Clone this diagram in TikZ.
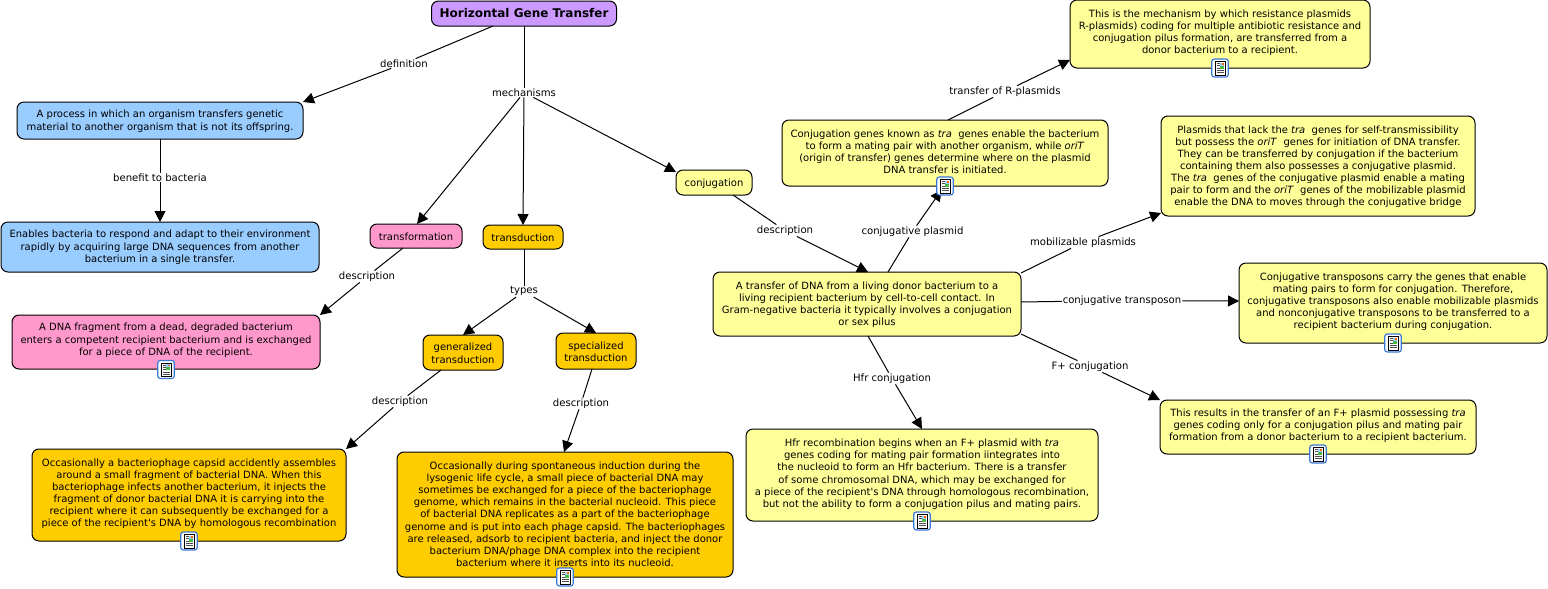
\documentclass[tikz,border=0pt]{standalone}
\usepackage{fontspec}
\setmainfont{DejaVu Sans}
\usetikzlibrary{arrows.meta}
\definecolor{cpurple}{HTML}{CC99FF}
\definecolor{cblue}{HTML}{99CCFF}
\definecolor{cpink}{HTML}{FF99CC}
\definecolor{corange}{HTML}{FFCC00}
\definecolor{cyellow}{HTML}{FFFF99}
\definecolor{iconblue}{HTML}{3A78D8}
\tikzset{
  cbase/.style={draw=black,line width=1pt,rounded corners=7pt,inner sep=0pt,outer sep=0pt,text=black},
  purplebox/.style={cbase,fill=cpurple},
  bluebox/.style={cbase,fill=cblue},
  pinkbox/.style={cbase,fill=cpink},
  orangebox/.style={cbase,fill=corange},
  yellowbox/.style={cbase,fill=cyellow},
  linklabel/.style={fill=white,inner xsep=1pt,inner ysep=1pt,outer sep=0pt,text=black,font=\fontsize{10.1}{12}\selectfont},
  plain/.style={draw=black,line width=1pt},
  arrow/.style={draw=black,line width=1pt,-{Triangle[length=11pt,width=11pt]}},
  iconframe/.style={draw=iconblue,fill=white,line width=1.2pt,rounded corners=2.5pt,minimum width=16.5pt,minimum height=18pt,inner sep=0pt,outer sep=0pt},
}
\newcommand{\cbox}[8]{%
  \pgfmathsetmacro\cw{#5-#3}\pgfmathsetmacro\ch{#6-#4}%
  \node[#1] (#2) at ({(#3+#5)/2},{(#4+#6)/2})
    {\parbox[c][\ch pt][c]{\cw pt}{\fontsize{10}{12.1}\selectfont\centering #8\par\vspace{\dimexpr#7pt-1.5pt\relax}}};}
\newcommand{\docicon}[2]{%
  \node[iconframe] (#1) at (#2) {};
  \begin{scope}[shift={(#1.center)}]
    \draw[black,line width=.6pt,fill=white] (-5,-6.5) rectangle (5,7);
    \fill[black!70] (-3.5,-5) rectangle (-.5,-4.2);
    \fill[black!70] (-3.5,-2.7) rectangle (-.5,-1.9);
    \fill[black!70] (-3.5,-.4) rectangle (-.5,.4);
    \fill[black!70] (-3.5,2) rectangle (3.5,2.8);
    \fill[black!70] (-3.5,4.2) rectangle (3.5,5);
    \fill[green!45!gray] (.3,-5.5) rectangle (4,.6);
    \fill[cblue] (.3,-5.5) rectangle (4,-2.5);
    \fill[red!60!yellow] (2,-5) rectangle (3.7,-3.2);
  \end{scope}}
\begin{document}
\begin{tikzpicture}[x=1pt,y=-1pt]
\useasboundingbox (0,0) rectangle (1548,589);
% concepts
\node[purplebox,minimum width=185pt,minimum height=25pt,font=\fontsize{12}{14}\selectfont\bfseries] (hgt) at (524,13.5) {Horizontal Gene Transfer};
\cbox{bluebox}{proc}{17}{102}{303}{139}{0}{A process in which an organism transfers genetic\\material to another organism that is not its offspring.}
\cbox{bluebox}{enab}{1}{222}{319}{272}{1}{Enables bacteria to respond and adapt to their environment\\rapidly by acquiring large DNA sequences from another\\bacterium in a single transfer.}
\cbox{pinkbox}{trf}{370}{224}{462}{248}{0}{transformation}
\cbox{orangebox}{trd}{483}{225}{563}{249}{0}{transduction}
\cbox{yellowbox}{conj}{676}{170}{752}{195}{0}{conjugation}
\cbox{pinkbox}{dfrag}{12}{315}{320}{369}{5}{A DNA fragment from a dead, degraded bacterium\\enters a competent recipient bacterium and is exchanged\\for a piece of DNA of the recipient.}
\cbox{orangebox}{gen}{423}{335}{503}{370}{0}{generalized\\transduction}
\cbox{orangebox}{spec}{556}{333}{636}{369}{0}{specialized\\transduction}
\cbox{orangebox}{occa}{32}{449}{346}{541}{4}{Occasionally a bacteriophage capsid accidently assembles\\around a small fragment of bacterial DNA. When this\\bacteriophage infects another bacterium, it injects the\\fragment of donor bacterial DNA it is carrying into the\\recipient where it can subsequently be exchanged for a\\piece of the recipient\textquotesingle s DNA by homologous recombination}
\cbox{orangebox}{occb}{397}{452}{733}{577}{2}{Occasionally during spontaneous induction during the\\lysogenic life cycle, a small piece of bacterial DNA may\\sometimes be exchanged for a piece of the bacteriophage\\genome, which remains in the bacterial nucleoid. This piece\\of bacterial DNA replicates as a part of the bacteriophage\\genome and is put into each phage capsid. The bacteriophages\\are released, adsorb to recipient bacteria, and inject the donor\\bacterium DNA/phage DNA complex into the recipient\\bacterium where it inserts into its nucleoid.}
\cbox{yellowbox}{rplas}{1070}{0}{1370}{68}{4}{This is the mechanism by which resistance plasmids\\R-plasmids) coding for multiple antibiotic resistance and\\conjugation pilus formation, are transferred from a\\donor bacterium to a recipient.}
\cbox{yellowbox}{genes}{782}{120}{1108}{186}{4}{Conjugation genes known as \textit{tra}\ \ genes enable the bacterium\\to form a mating pair with another organism, while \textit{oriT}\\(origin of transfer) genes determine where on the plasmid\\DNA transfer is initiated.}
\cbox{yellowbox}{mobi}{1161}{116}{1475}{216}{0}{Plasmids that lack the \textit{tra}\ \ genes for self-transmissibility\\but possess the \textit{oriT}\ \ genes for initiation of DNA transfer.\\They can be transferred by conjugation if the bacterium\\containing them also possesses a conjugative plasmid.\\The \textit{tra}\ \ genes of the conjugative plasmid enable a mating\\pair to form and the \textit{oriT}\ \ genes of the mobilizable plasmid\\enable the DNA to moves through the conjugative bridge}
\cbox{yellowbox}{main}{713}{272}{1021}{336}{0}{A transfer of DNA from a living donor bacterium to a\\living recipient bacterium by cell-to-cell contact. In\\Gram-negative bacteria it typically involves a conjugation\\or sex pilus}
\cbox{yellowbox}{ctrans}{1239}{263}{1547}{343}{4}{Conjugative transposons carry the genes that enable\\mating pairs to form for conjugation. Therefore,\\conjugative transposons also enable mobilizable plasmids\\and nonconjugative transposons to be transferred to a\\recipient bacterium during conjugation.}
\cbox{yellowbox}{fplus}{1160}{400}{1476}{454}{4}{This results in the transfer of an F+ plasmid possessing \textit{tra}\\genes coding only for a conjugation pilus and mating pair\\formation from a donor bacterium to a recipient bacterium.}
\cbox{yellowbox}{hfr}{746}{429}{1098}{521}{3}{Hfr recombination begins when an F+ plasmid with \textit{tra}\\genes coding for mating pair formation iintegrates into\\the nucleoid to form an Hfr bacterium. There is a transfer\\of some chromosomal DNA, which may be exchanged for\\a piece of the recipient\textquotesingle s DNA through homologous recombination,\\but not the ability to form a conjugation pilus and mating pairs.}
% link labels
\node[linklabel] (ldef) at (404,63.5) {definition};
\node[linklabel] (lmech) at (524,92.5) {mechanisms};
\node[linklabel] (lben) at (160,177.5) {benefit to bacteria};
\node[linklabel] (ltrf) at (367,276.5) {description};
\node[linklabel] (ltyp) at (524,291.5) {types};
\node[linklabel] (lgen) at (400,401.5) {description};
\node[linklabel] (lspec) at (581,403.5) {description};
\node[linklabel] (lconj) at (785,230.5) {description};
\node[linklabel] (lplas) at (912.5,231.5) {conjugative plasmid};
\node[linklabel] (lr) at (1005,91.5) {transfer of R-plasmids};
\node[linklabel] (lmob) at (1083,242.5) {mobilizable plasmids};
\node[linklabel] (lct) at (1122,300.5) {conjugative transposon};
\node[linklabel] (lf) at (1090,366.5) {F+ conjugation};
\node[linklabel] (lh) at (892,378.5) {Hfr conjugation};
% connectors
\draw[plain] ([xshift=-31pt]hgt.south) -- (ldef);
\draw[arrow] (ldef) -- (proc.north east);
\draw[plain] (hgt.south) -- (lmech);
\draw[arrow] (lmech) -- ([xshift=1pt]trf.north);
\draw[arrow] (lmech) -- (trd.north);
\draw[arrow] (lmech) -- ([yshift=-2pt]conj.north west);
\draw[plain] (proc.south) -- (lben);
\draw[arrow] (lben) -- (enab.north);
\draw[plain] ([xshift=-13pt]trf.south) -- (ltrf);
\draw[arrow] (ltrf) -- (dfrag.north east);
\draw[plain] ([xshift=1pt]trd.south) -- (ltyp);
\draw[arrow] (ltyp) -- (gen.north);
\draw[arrow] (ltyp) -- (spec.north);
\draw[plain] ([xshift=-22pt]gen.south) -- (lgen);
\draw[arrow] (lgen) -- (occa.north east);
\draw[plain] ([xshift=-4pt]spec.south) -- (lspec);
\draw[arrow] (lspec) -- ([xshift=-1pt]occb.north);
\draw[plain] ([xshift=-19pt]conj.south east) -- (lconj);
\draw[arrow] (lconj) -- ([xshift=1pt]main.north);
\draw[plain] ([xshift=21pt]main.north) -- (lplas);
\draw[arrow] (lplas) -- ([xshift=-3.5pt,yshift=-4pt]genes.south);
\draw[plain] ([xshift=3pt]genes.north) -- (lr);
\draw[arrow] (lr) -- ([yshift=8pt]rplas.south west);
\draw[plain] ([yshift=-1pt]main.north east) -- (lmob);
\draw[arrow] (lmob) -- ([yshift=3pt]mobi.south west);
\draw[plain] ([yshift=2pt]main.east) -- (lct);
\draw[arrow] (lct) -- ([yshift=2pt]ctrans.west);
\draw[plain] ([yshift=2pt]main.south east) -- (lf);
\draw[arrow] (lf) -- (fplus.north west);
\draw[plain] ([xshift=1pt]main.south) -- (lh);
\draw[arrow] (lh) -- (hfr.north);
% document icons
\docicon{ipink}{166,369.5}
\docicon{iocca}{189,541}
\docicon{ioccb}{565,577}
\docicon{ihfr}{922,521}
\docicon{igenes}{945,186}
\docicon{irplas}{1220,68}
\docicon{ictrans}{1393,343}
\docicon{ifplus}{1318,454}
\end{tikzpicture}
\end{document}
